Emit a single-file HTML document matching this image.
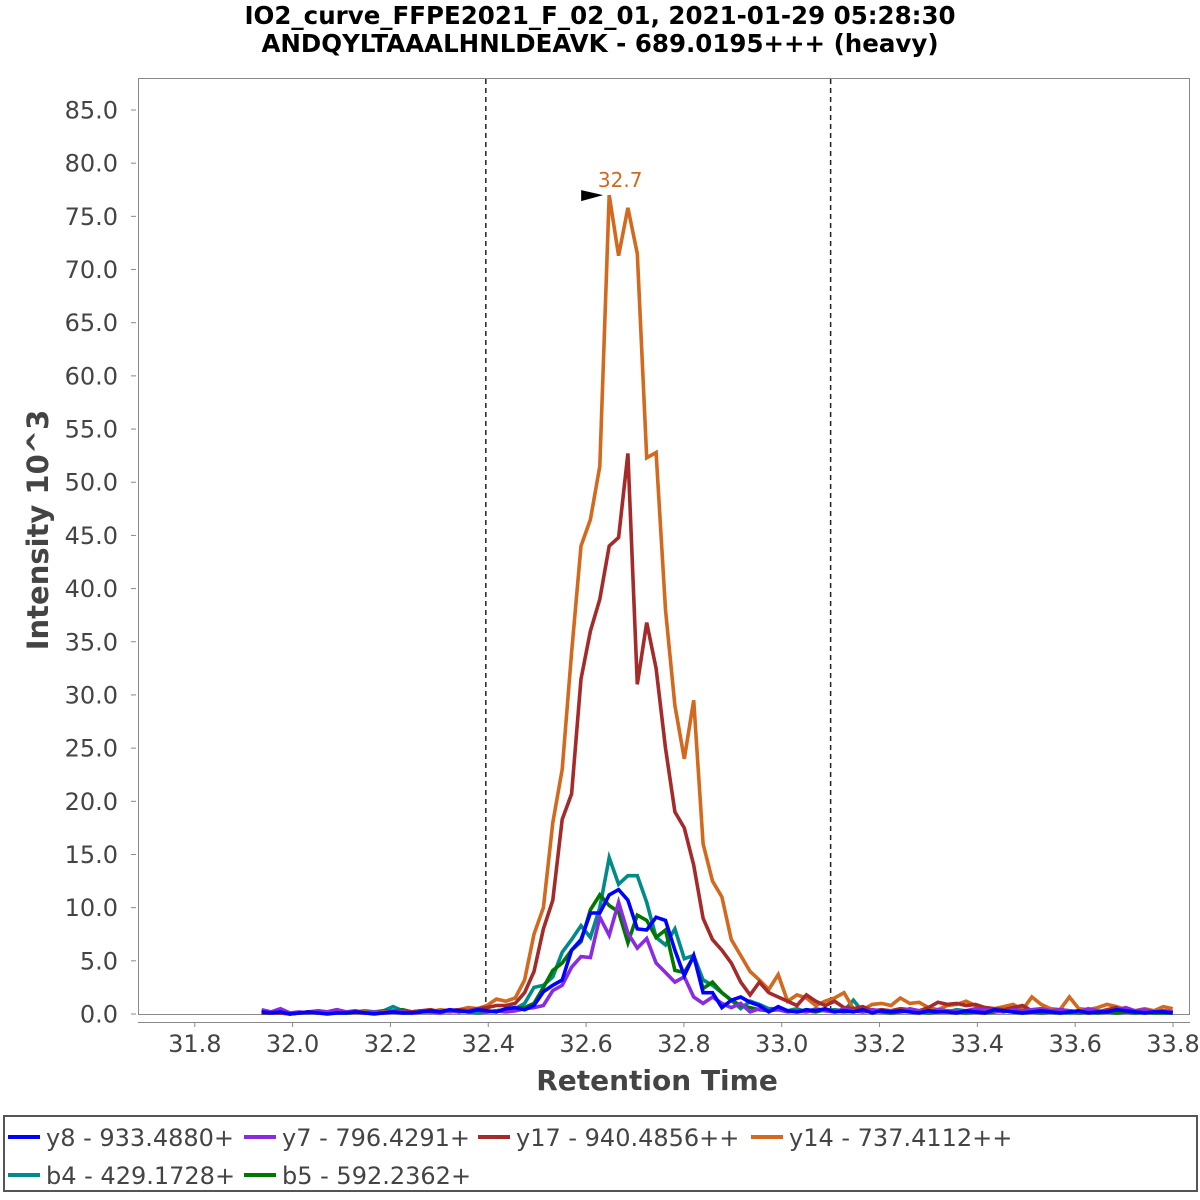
<!DOCTYPE html>
<html><head><meta charset="utf-8"><style>
html,body{margin:0;padding:0;background:#fff;}
svg{display:block;font-family:"Liberation Sans","DejaVu Sans",sans-serif;}
</style></head><body>
<svg id="chart" width="1200" height="1200" viewBox="0 0 1200 1200">
<rect x="0" y="0" width="1200" height="1200" fill="#fff"/>
<text x="600" y="24" text-anchor="middle" font-size="24.5" font-weight="bold" fill="#000" font-family="DejaVu Sans, sans-serif">IO2_curve_FFPE2021_F_02_01, 2021-01-29 05:28:30</text>
<text x="600" y="52" text-anchor="middle" font-size="24.5" font-weight="bold" fill="#000" font-family="DejaVu Sans, sans-serif">ANDQYLTAAALHNLDEAVK - 689.0195+++ (heavy)</text>
<rect x="138.5" y="78.5" width="1051" height="936" fill="#fff" stroke="#888" stroke-width="1"/>
<g id="yaxis"></g>
<g id="xaxis"></g>
<g id="marks"></g>
<text transform="translate(48,530) rotate(-90)" text-anchor="middle" font-size="29" font-weight="bold" fill="#444" font-family="DejaVu Sans, sans-serif">Intensity 10^3</text>
<text x="657" y="1090" text-anchor="middle" font-size="28" font-weight="bold" fill="#444" font-family="DejaVu Sans, sans-serif">Retention Time</text>
<g>
<rect x="4" y="1116" width="1193" height="75" fill="#fff" stroke="#555" stroke-width="2"/>
<g id="legend-items"></g>
</g>
</svg>
<script>
const times0 = 31.9366, timeStep = 0.019205;
const seriesNames = ["b4 - 429.1728+","b5 - 592.2362+","y14 - 737.4112++","y17 - 940.4856++","y7 - 796.4291+","y8 - 933.4880+"];
const seriesColors = ["#008b8b","#007800","#d2691e","#a52a2a","#8a2be2","#0000ff"];
const y8 = [0.2,0.1,0.2,0.0,0.1,0.2,0.1,0.0,0.1,0.1,0.2,0.1,0.0,0.1,0.2,0.1,0.1,0.2,0.3,0.2,0.4,0.3,0.2,0.4,0.3,0.2,0.5,0.6,0.4,0.8,2.1,2.7,3.2,6.0,7.0,9.5,9.5,11.2,11.7,10.7,8.0,7.9,9.1,8.8,6.0,3.6,5.5,2.0,2.0,0.6,1.3,1.6,1.1,0.8,0.2,0.7,0.3,0.2,0.4,0.3,0.5,0.2,0.3,0.2,0.4,0.1,0.3,0.2,0.3,0.2,0.1,0.3,0.2,0.2,0.1,0.3,0.2,0.1,0.4,0.3,0.2,0.1,0.2,0.3,0.2,0.1,0.2,0.3,0.1,0.2,0.2,0.4,0.3,0.2,0.1,0.2,0.2,0.1];
const y7 = [0.4,0.2,0.5,0.1,0.2,0.1,0.3,0.2,0.4,0.2,0.2,0.1,0.2,0.1,0.3,0.2,0.1,0.2,0.2,0.1,0.3,0.2,0.3,0.4,0.2,0.3,0.2,0.3,0.5,0.6,0.8,2.2,2.7,4.4,5.4,5.3,9.1,7.4,10.5,7.6,6.2,7.1,4.8,3.9,3.0,3.5,1.6,1.0,1.6,1.0,0.6,1.0,0.2,0.5,0.3,0.4,0.2,0.3,0.2,0.4,0.3,0.2,0.5,0.3,0.2,0.4,0.3,0.3,0.2,0.5,0.3,0.2,0.4,0.3,0.2,0.3,0.5,0.4,0.3,0.2,0.4,0.3,0.4,0.5,0.3,0.4,0.3,0.2,0.5,0.3,0.2,0.4,0.6,0.3,0.4,0.2,0.3,0.2];
const y17 = [0.1,0.1,0.1,0.0,0.1,0.2,0.3,0.2,0.4,0.2,0.3,0.1,0.2,0.1,0.2,0.3,0.2,0.3,0.4,0.2,0.3,0.4,0.3,0.5,0.6,0.8,0.8,1.0,2.0,4.0,8.0,10.7,18.3,20.7,31.5,36.0,39.0,44.0,44.8,52.7,31.0,36.8,32.5,25.0,19.0,17.5,14.0,9.0,7.0,6.0,4.8,3.0,1.8,3.0,2.0,1.6,1.2,0.8,1.8,1.2,0.8,1.2,0.6,0.5,0.7,0.3,0.4,0.3,0.5,0.4,0.3,0.6,1.1,0.9,1.0,0.8,0.9,0.6,0.5,0.4,0.6,0.8,0.3,0.5,0.3,0.4,0.3,0.2,0.3,0.2,0.4,0.6,0.3,0.2,0.3,0.2,0.3,0.2];
const y14 = [0.2,0.1,0.2,0.1,0.1,0.2,0.1,0.2,0.1,0.2,0.1,0.2,0.1,0.2,0.2,0.3,0.2,0.3,0.2,0.4,0.3,0.4,0.6,0.5,0.8,1.4,1.2,1.5,3.2,7.5,10.0,18.0,23.0,34.0,44.0,46.5,51.5,77.0,71.3,75.8,71.5,52.3,52.8,38.0,29.0,24.0,29.5,16.0,12.5,11.0,7.0,5.5,4.0,3.2,2.3,3.7,1.2,1.8,1.5,0.8,1.2,1.5,2.0,0.5,0.4,0.9,1.0,0.8,1.5,1.0,1.1,0.6,0.4,0.8,0.9,1.2,0.8,0.6,0.5,0.7,0.9,0.4,1.6,0.9,0.5,0.4,1.6,0.5,0.4,0.6,0.9,0.7,0.4,0.3,0.5,0.3,0.7,0.5];
const b4 = [0.1,0.1,0.2,0.1,0.1,0.2,0.1,0.2,0.1,0.1,0.2,0.3,0.2,0.3,0.7,0.3,0.2,0.3,0.2,0.3,0.2,0.3,0.2,0.1,0.2,0.3,0.4,0.5,1.0,2.5,2.7,3.5,5.8,7.0,8.3,7.2,10.0,14.7,12.2,13.0,13.0,10.5,7.2,6.5,8.0,5.2,5.5,3.2,2.7,2.0,1.3,0.5,1.2,0.9,0.5,0.5,0.3,0.5,0.2,0.5,0.3,0.4,0.3,1.3,0.2,0.3,0.2,0.3,0.2,0.4,0.3,0.2,0.3,0.2,0.4,0.3,0.2,0.3,0.2,0.3,0.2,0.1,0.3,0.2,0.3,0.2,0.1,0.2,0.3,0.2,0.2,0.1,0.2,0.1,0.2,0.1,0.2,0.1];
const b5 = [0.1,0.1,0.1,0.0,0.1,0.1,0.2,0.1,0.2,0.1,0.1,0.2,0.1,0.3,0.2,0.4,0.2,0.3,0.2,0.2,0.3,0.2,0.3,0.4,0.2,0.3,0.4,0.5,0.6,1.0,2.5,4.1,4.8,6.0,6.8,9.8,11.2,10.2,9.6,6.7,9.3,8.8,7.2,7.9,4.1,3.9,5.4,2.4,3.0,2.0,1.3,0.8,0.6,0.4,0.3,0.5,0.3,0.2,0.3,0.2,0.4,0.3,0.2,0.3,0.2,0.3,0.2,0.1,0.2,0.3,0.2,0.1,0.2,0.3,0.2,0.1,0.2,0.1,0.2,0.3,0.2,0.1,0.2,0.1,0.2,0.1,0.2,0.1,0.2,0.1,0.2,0.1,0.2,0.1,0.2,0.1,0.1,0.1];
const yTickLabels = ["0.0","5.0","10.0","15.0","20.0","25.0","30.0","35.0","40.0","45.0","50.0","55.0","60.0","65.0","70.0","75.0","80.0","85.0"];
const xTickLabels = ["31.8","32.0","32.2","32.4","32.6","32.8","33.0","33.2","33.4","33.6","33.8"];
const boundaryTimes = [32.395, 33.1];
const peakLabel = "32.7";

const NS = "http://www.w3.org/2000/svg";
function yScale(v){ return 1014 - v * (904/85); }
function xScale(t){ return 194.8 + (t - 31.8) * (978.2/2.0); }
function mk(tag, attrs, parent){ const e = document.createElementNS(NS, tag); for (const k in attrs) e.setAttribute(k, attrs[k]); parent.appendChild(e); return e; }

const yaxis = document.getElementById('yaxis');
yTickLabels.forEach(function(lab){
  const v = parseFloat(lab), y = yScale(v);
  const tk = mk('line', {x1:131, x2:136, y1:y, y2:y, stroke:'#888'}, yaxis);
  
  
  const t = mk('text', {x:118, y:y+8.5, 'text-anchor':'end', 'font-size':24, fill:'#444', 'font-family':'DejaVu Sans, sans-serif'}, yaxis);
  t.textContent = lab;
  
  
});
const xaxis = document.getElementById('xaxis');
mk('line', {x1:138, x2:1190, y1:1022.5, y2:1022.5, stroke:'#888'}, xaxis);
xTickLabels.forEach(function(lab){
  const x = xScale(parseFloat(lab));
  const tk = mk('line', {x1:x, x2:x, y1:1022, y2:1027, stroke:'#888'}, xaxis);
  
  
  const t = mk('text', {x:x, y:1052, 'text-anchor':'middle', 'font-size':24, fill:'#444', 'font-family':'DejaVu Sans, sans-serif'}, xaxis);
  t.textContent = lab;
  
  
});

const marks = document.getElementById('marks');
boundaryTimes.forEach(function(bt){
  const x = xScale(bt);
  const l = mk('line', {x1:x, x2:x, y1:79, y2:1014, stroke:'#222', 'stroke-width':1.5, 'stroke-dasharray':'5,4'}, marks);
  
  
});
const allSeries = [b4, b5, y14, y17, y7, y8];
allSeries.forEach(function(arr, si){
  let d = '';
  arr.forEach(function(v, i){ d += (i ? 'L' : 'M') + xScale(times0 + i*timeStep).toFixed(1) + ',' + yScale(v).toFixed(1); });
  const p = mk('path', {d:d, fill:'none', stroke:seriesColors[si], 'stroke-width':3.6, 'stroke-linejoin':'miter'}, marks);
  
  
});
let pk = 0; y14.forEach(function(v,i){ if (v > y14[pk]) pk = i; });
const px = xScale(times0 + pk*timeStep), py = yScale(y14[pk]);
const tri = mk('polygon', {points:(px-28)+','+(py-5)+' '+(px-6)+','+(py)+' '+(px-28)+','+(py+6), fill:'#000'}, marks);


const pl = mk('text', {x:px+11, y:py-8, 'text-anchor':'middle', 'font-size':20, fill:'#d2691e', 'font-family':'DejaVu Sans, sans-serif'}, marks);
pl.textContent = peakLabel;



const legendOrder = [5,4,3,2,0,1];
const legendPos = [[8,1137],[244,1137],[478,1137],[751,1137],[8,1175],[244,1175]];
const lg = document.getElementById('legend-items');
legendOrder.forEach(function(si, k){
  const x = legendPos[k][0], y = legendPos[k][1];
  const g = mk('g', {}, lg);
  
  
  mk('line', {x1:x, x2:x+32, y1:y, y2:y, stroke:seriesColors[si], 'stroke-width':4}, g);
  const t = mk('text', {x:x+38, y:y+9, 'font-size':24, fill:'#444', 'font-family':'DejaVu Sans, sans-serif'}, g);
  t.textContent = seriesNames[si];
});
</script>
</body></html>
